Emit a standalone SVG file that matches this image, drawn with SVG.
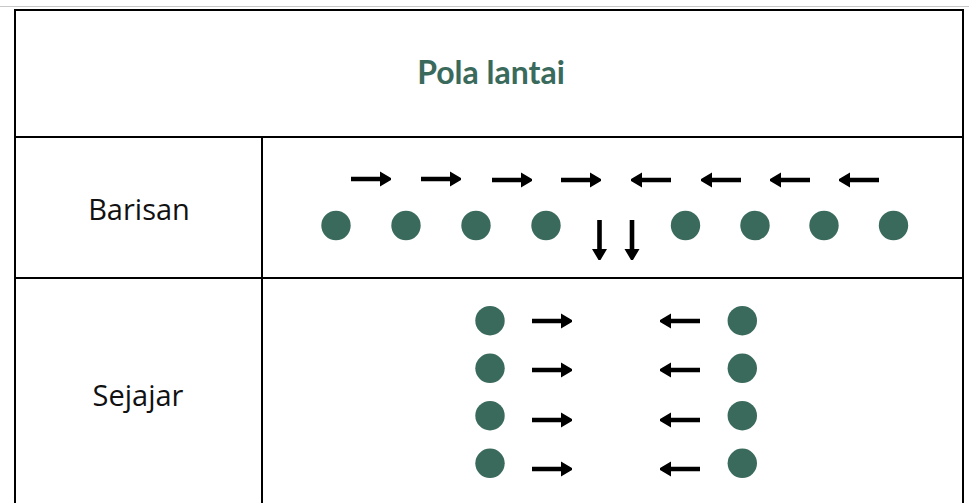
<svg xmlns="http://www.w3.org/2000/svg" width="969" height="503" viewBox="0 0 969 503">
<style>
.grid{stroke:#000;stroke-width:2;fill:none}
.dot{fill:#3a6a5c}
.arr{fill:#000}
.lbl{font-family:"Open Sans","Liberation Sans",sans-serif;font-size:29px;fill:#111;text-anchor:middle}
.title{font-family:Lato,"Liberation Sans",sans-serif;font-weight:bold;font-size:32px;fill:#3a6a5c;text-anchor:middle}
</style>
<defs>
<path id="ar" d="M0,-2.3 H29 V-7.5 L40,-1 V1 L29,7.5 V2.3 H0 Z"/>
<path id="al" d="M41,-2.3 H12 V-7.5 L1,-1 V1 L12,7.5 V2.3 H41 Z"/>
<path id="ad" d="M-2.3,0 V29 H-7.5 L-1,40 H1 L7.5,29 H2.3 V0 Z"/>
</defs>
<rect width="969" height="503" fill="#fff"/>
<line x1="0" y1="6.5" x2="969" y2="6.5" stroke="#c8c8c8" stroke-width="1"/>
<g id="table" class="grid">
<path d="M15,503 V10 H963 V503"/>
<line x1="15" y1="137" x2="963" y2="137"/>
<line x1="15" y1="278" x2="963" y2="278"/>
<line x1="262" y1="137" x2="262" y2="503"/>
</g>
<g id="title"><text class="title" x="491" y="84">Pola lantai</text></g>
<g id="label-barisan"><text class="lbl" x="139" y="220">Barisan</text></g>
<g id="label-sejajar"><text class="lbl" x="138" y="406">Sejajar</text></g>
<g id="barisan-dots" class="dot">
<circle cx="336" cy="225.5" r="14.7"/>
<circle cx="406" cy="225.5" r="14.7"/>
<circle cx="476" cy="225.5" r="14.7"/>
<circle cx="546" cy="225.5" r="14.7"/>
<circle cx="685.5" cy="225.5" r="14.7"/>
<circle cx="755" cy="225.5" r="14.7"/>
<circle cx="824" cy="225.5" r="14.7"/>
<circle cx="893.5" cy="225.5" r="14.7"/>
</g>
<g id="connectors" class="arr">
<use href="#ar" x="351" y="179"/>
<use href="#ar" x="421" y="179"/>
<use href="#ar" x="492" y="180"/>
<use href="#ar" x="561" y="180"/>
<use href="#al" x="630" y="180"/>
<use href="#al" x="700" y="180"/>
<use href="#al" x="769" y="180"/>
<use href="#al" x="838" y="180"/>
<use href="#ad" x="599.5" y="220"/>
<use href="#ad" x="632" y="220"/>
<use href="#ar" x="532" y="321"/>
<use href="#ar" x="532" y="370"/>
<use href="#ar" x="532" y="420"/>
<use href="#ar" x="532" y="469"/>
<use href="#al" x="659" y="321"/>
<use href="#al" x="659" y="370"/>
<use href="#al" x="659" y="420"/>
<use href="#al" x="659" y="469"/>
</g>
<g id="sejajar-dots" class="dot">
<circle cx="490" cy="320.7" r="14.7"/>
<circle cx="490" cy="368.3" r="14.7"/>
<circle cx="490" cy="415.7" r="14.7"/>
<circle cx="490" cy="463.3" r="14.7"/>
<circle cx="742.3" cy="320.7" r="14.7"/>
<circle cx="742.3" cy="368.3" r="14.7"/>
<circle cx="742.3" cy="415.7" r="14.7"/>
<circle cx="742.3" cy="463.3" r="14.7"/>
</g>
</svg>
